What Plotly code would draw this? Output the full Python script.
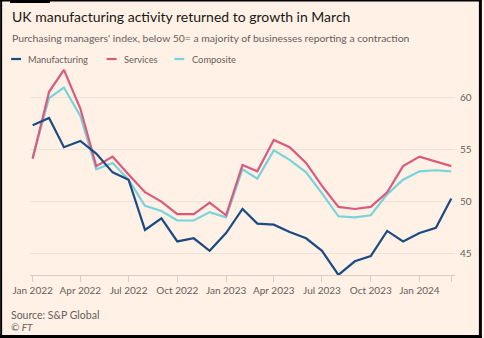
import pandas as pd
import plotly.graph_objects as go

# ---- data ----
months = pd.date_range("2022-01-01", "2024-03-01", freq="MS")
manufacturing = [57.3, 58.0, 55.2, 55.8, 54.6, 52.8, 52.1, 47.3, 48.4, 46.2, 46.5, 45.3,
                 47.0, 49.3, 47.9, 47.8, 47.1, 46.5, 45.3, 43.0, 44.3, 44.8, 47.2, 46.2,
                 47.0, 47.5, 50.3]
services = [54.1, 60.5, 62.6, 58.9, 53.4, 54.3, 52.6, 50.9, 50.0, 48.8, 48.8, 49.9,
            48.7, 53.5, 52.9, 55.9, 55.2, 53.7, 51.5, 49.5, 49.3, 49.5, 50.9, 53.4,
            54.3, 53.8, 53.4]
composite = [54.2, 59.9, 60.9, 58.2, 53.1, 53.7, 52.1, 49.6, 49.1, 48.2, 48.2, 49.0,
             48.5, 53.1, 52.2, 54.9, 54.0, 52.8, 50.8, 48.6, 48.5, 48.7, 50.7, 52.1,
             52.9, 53.0, 52.9]
series_names = ["Manufacturing", "Services", "Composite"]
series_colors = ["#1A4B82", "#DA5A7E", "#79D3DB"]

tick_vals = ["2022-01-01", "2022-04-01", "2022-07-01", "2022-10-01", "2023-01-01",
             "2023-04-01", "2023-07-01", "2023-10-01", "2024-01-01", "2024-03-01"]
tick_text = ["Jan 2022", "Apr 2022", "Jul 2022", "Oct 2022", "Jan 2023",
             "Apr 2023", "Jul 2023", "Oct 2023", "Jan 2024", ""]
y_ticks = [45, 50, 55, 60]

title = "UK manufacturing activity returned to growth in March"
subtitle = "Purchasing managers' index, below 50= a majority of businesses reporting a contraction"
source = "Source: S&P Global"
credit = "<i>© FT</i>"

# ---- layout geometry (pixels) ----
W, H = 484, 338
L, R, T, B = 30, 27, 65, 63
PW, PH = W - L - R, H - T - B
def px(x):
    return (x - L) / PW
def py(y):
    return (H - B - y) / PH

FONT = "Lato"
GRAY = "#66605C"
BG = "#FFF1E5"

fig = go.Figure()
all_vals = [manufacturing, services, composite]
# draw order: composite, services, manufacturing on top
for i in [2, 1, 0]:
    fig.add_trace(go.Scatter(x=months, y=all_vals[i], mode="lines", name=series_names[i],
                             line=dict(color=series_colors[i], width=2.2),
                             showlegend=False, hoverinfo="skip"))

shapes = []
annotations = []

# title / subtitle / source
annotations.append(dict(text=title, x=px(10), y=py(17), xref="paper", yref="paper",
                        xanchor="left", yanchor="middle", showarrow=False,
                        font=dict(family=FONT, size=14, color="#1A1817")))
annotations.append(dict(text=subtitle, x=px(10), y=py(38), xref="paper", yref="paper",
                        xanchor="left", yanchor="middle", showarrow=False,
                        font=dict(family=FONT, size=10.4, color=GRAY)))
annotations.append(dict(text=source, x=px(9), y=py(315), xref="paper", yref="paper",
                        xanchor="left", yanchor="middle", showarrow=False,
                        font=dict(family=FONT, size=10.5, color=GRAY)))
annotations.append(dict(text=credit, x=px(9), y=py(327), xref="paper", yref="paper",
                        xanchor="left", yanchor="middle", showarrow=False,
                        font=dict(family=FONT, size=10, color=GRAY)))

# legend (custom)
legend_x = [(11, 26), (107, 122), (175, 191)]
for (lx, tx), name, col in zip(legend_x, series_names, series_colors):
    shapes.append(dict(type="line", xref="paper", yref="paper",
                       x0=px(lx), x1=px(lx + 10), y0=py(59), y1=py(59),
                       line=dict(color=col, width=2.2)))
    annotations.append(dict(text=name, x=px(tx), y=py(59), xref="paper", yref="paper",
                            xanchor="left", yanchor="middle", showarrow=False,
                            font=dict(family=FONT, size=9.3, color=GRAY)))

# frame
for (x0, y0, x1, y1) in [(0, 0, W, 1.5), (0, 0, 2, H), (W - 3, 0, W, H), (0, H - 3, W, H), (10, 0, 50, 3)]:
    shapes.append(dict(type="rect", xref="paper", yref="paper", x0=px(x0), x1=px(x1),
                       y0=py(y1), y1=py(y0), fillcolor="#000000", line=dict(width=0),
                       layer="above"))

fig.update_layout(
    width=W, height=H,
    margin=dict(l=L, r=R, t=T, b=B, pad=0),
    paper_bgcolor=BG, plot_bgcolor=BG,
    shapes=shapes, annotations=annotations,
    xaxis=dict(type="date", range=["2021-12-27", "2024-03-08"],
               tickvals=tick_vals, ticktext=tick_text,
               showgrid=False, zeroline=False,
               showline=True, linecolor="#D9CCC0", linewidth=1,
               ticks="outside", ticklen=6, tickcolor="#D9CCC0", tickwidth=1,
               tickfont=dict(family=FONT, size=10, color=GRAY)),
    yaxis=dict(range=[42.99, 63.06], side="right", tickvals=y_ticks,
               showgrid=True, gridcolor="#EFE2D6", gridwidth=1,
               zeroline=False, showline=False, ticks="", ticklabelstandoff=4,
               tickfont=dict(family=FONT, size=10, color=GRAY)),
)

fig.write_html("out.html")
